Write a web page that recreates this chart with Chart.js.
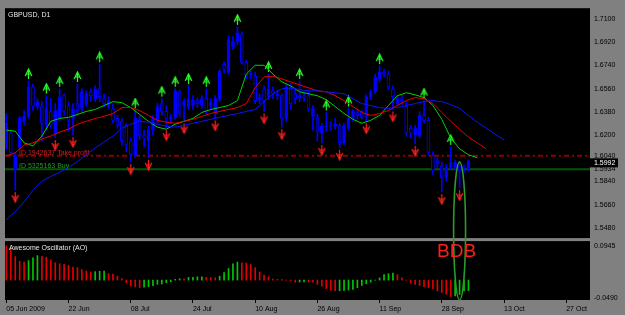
<!DOCTYPE html>
<html lang="en">
<head>
<meta charset="UTF-8">
<title>GBPUSD, D1</title>
<script src="https://cdn.jsdelivr.net/npm/chart.js"></script>
<style>
  html, body { margin: 0; padding: 0; background: #808080; }
  #chart { display: block; }
</style>
</head>
<body>
<canvas id="chart" width="625" height="315"></canvas>
<script>
// daily bars, index 0 = 05 Jun 2009
const openP = [1.6100,1.6215,1.5933,1.6100,1.6306,1.6345,1.6574,1.6421,1.6421,1.6276,
  1.6383,1.6215,1.6329,1.6505,1.6429,1.6329,1.6444,1.6406,1.6444,1.6535,
  1.6482,1.6558,1.6482,1.6429,1.6406,1.6329,1.6306,1.6276,1.6154,1.6047,
  1.6314,1.6200,1.6162,1.6238,1.6314,1.6444,1.6383,1.6322,1.6337,1.6535,
  1.6429,1.6421,1.6429,1.6467,1.6429,1.6482,1.6429,1.6367,1.6482,1.6749,
  1.6688,1.6886,1.6925,1.6978,1.6764,1.6665,1.6657,1.6474,1.6558,1.6497,
  1.6543,1.6505,1.6505,1.6329,1.6558,1.6520,1.6490,1.6505,1.6505,1.6345,
  1.6329,1.6215,1.6261,1.6276,1.6268,1.6276,1.6139,1.6253,1.6329,1.6375,
  1.6383,1.6345,1.6497,1.6535,1.6635,1.6688,1.6673,1.6558,1.6444,1.6482,
  1.6421,1.6253,1.6200,1.6192,1.6352,1.6314,1.6047,1.6001,1.5963,1.5872,
  1.5948,1.5948,1.5963,1.5955,1.5925];
const highP = [1.6367,1.6230,1.6062,1.6345,1.6390,1.6619,1.6596,1.6482,1.6459,1.6505,
  1.6482,1.6444,1.6558,1.6520,1.6459,1.6444,1.6596,1.6558,1.6543,1.6558,
  1.6581,1.6749,1.6520,1.6497,1.6444,1.6352,1.6329,1.6291,1.6177,1.6390,
  1.6352,1.6238,1.6268,1.6352,1.6444,1.6482,1.6429,1.6360,1.6558,1.6550,
  1.6482,1.6581,1.6505,1.6490,1.6505,1.6558,1.6482,1.6505,1.6711,1.6765,
  1.6970,1.6963,1.7039,1.7001,1.6780,1.6696,1.6688,1.6520,1.6581,1.6673,
  1.6573,1.6550,1.6520,1.6596,1.6600,1.6550,1.6619,1.6535,1.6535,1.6429,
  1.6360,1.6291,1.6375,1.6306,1.6329,1.6291,1.6291,1.6406,1.6398,1.6398,
  1.6390,1.6512,1.6550,1.6673,1.6734,1.6711,1.6696,1.6581,1.6505,1.6505,
  1.6459,1.6276,1.6276,1.6383,1.6467,1.6337,1.6070,1.6024,1.5986,1.5971,
  1.6108,1.6001,1.5986,1.5971,1.6008];
const lowP = [1.6085,1.6039,1.5773,1.6085,1.6276,1.6329,1.6390,1.6398,1.6154,1.6238,
  1.6253,1.6177,1.6306,1.6352,1.6230,1.6200,1.6352,1.6383,1.6421,1.6459,
  1.6459,1.6459,1.6421,1.6406,1.6291,1.6253,1.6123,1.6070,1.5990,1.6024,
  1.6162,1.6108,1.6024,1.6200,1.6291,1.6352,1.6253,1.6291,1.6322,1.6345,
  1.6306,1.6398,1.6398,1.6415,1.6406,1.6360,1.6398,1.6329,1.6459,1.6680,
  1.6673,1.6863,1.6902,1.6749,1.6635,1.6635,1.6444,1.6444,1.6383,1.6474,
  1.6482,1.6474,1.6261,1.6306,1.6398,1.6444,1.6459,1.6459,1.6383,1.6238,
  1.6154,1.6139,1.6230,1.6238,1.6246,1.6100,1.6123,1.6238,1.6306,1.6322,
  1.6322,1.6306,1.6474,1.6520,1.6612,1.6650,1.6550,1.6398,1.6429,1.6436,
  1.6192,1.6177,1.6131,1.6177,1.6291,1.6047,1.5894,1.5948,1.5757,1.5841,
  1.5933,1.5925,1.5788,1.5910,1.5918];
const closeP = [1.6291,1.6062,1.6039,1.6329,1.6345,1.6574,1.6421,1.6459,1.6291,1.6406,
  1.6276,1.6390,1.6497,1.6383,1.6314,1.6406,1.6390,1.6535,1.6520,1.6505,
  1.6558,1.6497,1.6444,1.6467,1.6314,1.6276,1.6154,1.6123,1.6047,1.6329,
  1.6200,1.6177,1.6238,1.6329,1.6421,1.6383,1.6329,1.6337,1.6543,1.6367,
  1.6459,1.6474,1.6474,1.6444,1.6482,1.6383,1.6452,1.6482,1.6696,1.6711,
  1.6940,1.6925,1.6993,1.6764,1.6657,1.6680,1.6467,1.6490,1.6467,1.6558,
  1.6520,1.6520,1.6329,1.6574,1.6444,1.6482,1.6505,1.6490,1.6406,1.6406,
  1.6230,1.6268,1.6268,1.6261,1.6284,1.6139,1.6268,1.6329,1.6390,1.6352,
  1.6337,1.6497,1.6535,1.6650,1.6688,1.6673,1.6574,1.6497,1.6482,1.6467,
  1.6215,1.6215,1.6253,1.6352,1.6314,1.6062,1.5925,1.5986,1.5872,1.5948,
  1.5986,1.5986,1.5925,1.5948,1.5992];

// fractal bars
const upFractals = [5, 9, 12, 16, 21, 29, 35, 38, 41, 45, 52, 59, 66, 72, 77, 84, 94, 100];
const downFractals = [2, 11, 15, 28, 32, 36, 40, 47, 58, 62, 71, 75, 81, 87, 92, 98, 102];

// alligator lines, sampled every 2 bars (shifted lines run past the last bar)
const maIdx = [0,2,4,6,8,10,12,14,16,18,20,22,24,26,28,30,32,34,36,38,40,42,44,46,48,50,
  52,54,56,58,60,62,64,66,68,70,72,74,76,78,80,82,84,86,88,90,92,94,96,98,100,102,104,106,108,110,112];
const lips = [1.6238,1.6230,1.6139,1.6116,1.6192,1.6306,1.6329,1.6337,1.6360,1.6383,1.6398,1.6429,1.6459,
  1.6451,1.6413,1.6360,1.6306,1.6261,1.6245,1.6284,1.6306,1.6329,1.6375,1.6398,1.6413,1.6429,1.6467,
  1.6673,1.6741,1.6741,1.6673,1.6612,1.6581,1.6535,1.6520,1.6505,1.6474,1.6421,1.6367,1.6322,1.6291,
  1.6314,1.6352,1.6429,1.6505,1.6528,1.6512,1.6490,1.6429,1.6322,1.6177,1.6093,1.6047,1.6024,null,null,null];
const teeth = [1.6039,1.6062,1.6123,1.6139,1.6169,1.6192,1.6223,1.6245,1.6284,1.6306,1.6329,1.6345,1.6367,
  1.6413,1.6413,1.6390,1.6352,1.6314,1.6299,1.6291,1.6306,1.6322,1.6345,1.6367,1.6383,1.6398,1.6413,
  1.6444,1.6566,1.6650,1.6657,1.6635,1.6612,1.6589,1.6566,1.6543,1.6535,1.6505,1.6467,1.6421,1.6375,
  1.6352,1.6367,1.6390,1.6429,1.6467,1.6490,1.6482,1.6444,1.6375,1.6306,1.6245,1.6184,1.6139,1.6093,null,null];
const jaw = [1.5543,1.5605,1.5681,1.5772,1.5841,1.5879,1.5910,1.5948,1.5994,1.6047,1.6100,1.6146,1.6192,
  1.6253,1.6284,1.6306,1.6299,1.6284,1.6268,1.6261,1.6276,1.6291,1.6306,1.6322,1.6337,1.6352,1.6367,
  1.6383,1.6398,1.6459,1.6520,1.6558,1.6566,1.6551,1.6543,1.6543,1.6535,1.6528,1.6520,1.6482,1.6444,
  1.6429,1.6413,1.6406,1.6413,1.6429,1.6444,1.6459,1.6467,1.6459,1.6436,1.6406,1.6352,1.6299,1.6253,1.6207,1.6162];

// Awesome Oscillator
const aoValues = [0.0945,0.0902,0.0650,0.0523,0.0496,0.0542,0.0615,0.0677,0.0658,0.0631,
  0.0561,0.0479,0.0452,0.0433,0.0406,0.0360,0.0344,0.0290,0.0252,0.0225,
  0.0233,0.0244,0.0250,0.0181,0.0168,0.0108,0.0040,-0.0073,-0.0162,-0.0190,
  -0.0208,-0.0200,-0.0181,-0.0155,-0.0117,-0.0108,-0.0073,-0.0046,0.0019,0.0035,
  0.0030,0.0073,0.0075,0.0090,0.0092,0.0080,0.0070,0.0065,0.0108,0.0209,
  0.0317,0.0452,0.0496,0.0479,0.0470,0.0433,0.0344,0.0225,0.0135,0.0090,
  0.0027,0.0019,0.0010,-0.0005,-0.0014,-0.0060,-0.0055,-0.0050,-0.0052,-0.0060,
  -0.0120,-0.0167,-0.0237,-0.0284,-0.0302,-0.0298,-0.0284,-0.0275,-0.0257,-0.0210,
  -0.0149,-0.0103,-0.0059,-0.0005,0.0059,0.0149,0.0176,0.0194,0.0149,0.0059,
  -0.0005,-0.0077,-0.0122,-0.0149,-0.0184,-0.0210,-0.0237,-0.0302,-0.0345,-0.0392,
  -0.0460,-0.0440,-0.0400,-0.0302,-0.0290];

const timeTickIdx = [0, 14, 28, 42, 56, 70, 84, 98, 112, 126];
const timeTickLabels = ['05 Jun 2009', '22 Jun', '08 Jul', '24 Jul', '10 Aug', '26 Aug', '11 Sep', '28 Sep', '13 Oct', '27 Oct'];
const priceTicks = [1.7100, 1.6920, 1.6740, 1.6560, 1.6380, 1.6200, 1.6040, 1.5934, 1.5840, 1.5660, 1.5480];
const aoTicks = [0.0945, -0.0490];

const takeProfit = 1.6040;
const buyPrice = 1.5934;
const bdbBar = 102;

const FONT = '"Liberation Sans", Arial, sans-serif';

function arrowSprite(color, up) {
  const c = document.createElement('canvas');
  c.width = 9; c.height = 26;
  const g = c.getContext('2d');
  g.strokeStyle = color;
  g.lineWidth = 1.2;
  g.beginPath();
  if (up) {
    g.moveTo(4.5, 1); g.lineTo(4.5, 11);
    g.moveTo(1.2, 8); g.lineTo(4.5, 1); g.lineTo(7.8, 8);
    g.moveTo(2.5, 6); g.lineTo(6.5, 6);
  } else {
    g.moveTo(4.5, 15); g.lineTo(4.5, 25);
    g.moveTo(1.2, 18); g.lineTo(4.5, 25); g.lineTo(7.8, 18);
    g.moveTo(2.5, 20); g.lineTo(6.5, 20);
  }
  g.stroke();
  return c;
}

const bars = openP.map((o, i) => i);
const wickData = bars.map(i => ({ x: i, y: [lowP[i], highP[i]] }));
const bodyData = bars.map(i => ({ x: i, y: [openP[i], closeP[i]] }));
const bodyFill = bars.map(i => closeP[i] >= openP[i] ? '#0000ff' : '#000000');
const aoColors = aoValues.map((v, i) => (i > 0 && v > aoValues[i - 1]) ? '#00c800' : '#e00000');

function maLine(vals) {
  return maIdx.map((x, k) => ({ x: x, y: vals[k] }));
}

const overlay = {
  id: 'overlay',
  beforeDraw(chart) {
    const { ctx, chartArea: a } = chart;
    ctx.save();
    ctx.fillStyle = '#808080';
    ctx.fillRect(0, 0, chart.width, chart.height);
    ctx.fillStyle = '#000000';
    ctx.fillRect(a.left, a.top, a.right - a.left, a.bottom - a.top);
    ctx.restore();
  },
  beforeDatasetsDraw(chart) {
    const { ctx, chartArea: a } = chart;
    const y = chart.scales.y;
    const tpY = y.getPixelForValue(takeProfit);
    const buyY = y.getPixelForValue(buyPrice);
    ctx.save();
    ctx.lineWidth = 2;
    ctx.strokeStyle = '#8c0000';
    ctx.setLineDash([5, 3, 2, 3]);
    ctx.beginPath(); ctx.moveTo(a.left, tpY); ctx.lineTo(a.right, tpY); ctx.stroke();
    ctx.setLineDash([]);
    ctx.strokeStyle = '#005a00';
    ctx.beginPath(); ctx.moveTo(a.left, buyY); ctx.lineTo(a.right, buyY); ctx.stroke();
    ctx.font = '7px ' + FONT;
    ctx.textBaseline = 'alphabetic';
    ctx.fillStyle = '#c82020';
    ctx.fillText('ID 1942637 Take profit', a.left + 14, tpY - 1);
    ctx.fillStyle = '#249624';
    ctx.fillText('ID 5325163 Buy', a.left + 14, buyY - 1);
    ctx.restore();
  },
  afterDatasetsDraw(chart) {
    const { ctx, chartArea: a } = chart;
    const y = chart.scales.y;
    const ao = chart.scales.yAO;
    ctx.save();
    // separator between the price pane and the oscillator pane
    ctx.fillStyle = '#808080';
    ctx.fillRect(a.left, y.bottom, a.right - a.left, 3);
    ctx.font = '7px ' + FONT;
    ctx.fillStyle = '#e6e6e6';
    ctx.textBaseline = 'middle';
    ctx.fillText('GBPUSD, D1', a.left + 3, y.top + 7);
    ctx.fillText('Awesome Oscillator (AO)', a.left + 4, ao.top + 10);
    ctx.restore();
  },
  afterDraw(chart) {
    const { ctx, chartArea: a } = chart;
    const x = chart.scales.x;
    const y = chart.scales.y;
    const ao = chart.scales.yAO;
    ctx.save();
    // current price box
    const last = closeP[closeP.length - 1];
    const py = y.getPixelForValue(last) + 1;
    ctx.fillStyle = '#000000';
    ctx.fillRect(a.right, py - 4.5, 28, 9);
    ctx.font = '7px ' + FONT;
    ctx.fillStyle = '#ffffff';
    ctx.textBaseline = 'middle';
    ctx.fillText(last.toFixed(4), a.right + 4, py);
    // bullish divergent bar marker
    const cx = x.getPixelForValue(bdbBar);
    const top = y.getPixelForValue(1.5990);
    const bottom = a.bottom;
    ctx.strokeStyle = '#2c9a2c';
    ctx.lineWidth = 1.6;
    ctx.beginPath();
    ctx.ellipse(cx, (top + bottom) / 2, 6, (bottom - top) / 2, 0, 0, Math.PI * 2);
    ctx.stroke();
    ctx.fillStyle = '#ff1e1e';
    ctx.font = '19px ' + FONT;
    ctx.textAlign = 'center';
    ctx.textBaseline = 'alphabetic';
    ctx.fillText('BDB', cx - 3, ao.top + 19);
    ctx.restore();
  }
};

new Chart(document.getElementById('chart'), {
  type: 'bar',
  data: {
    datasets: [
      { type: 'line', label: 'Jaw', data: maLine(jaw), yAxisID: 'y', borderColor: '#0a14ff', borderWidth: 1, pointRadius: 0, tension: 0, order: 0 },
      { type: 'line', label: 'Teeth', data: maLine(teeth), yAxisID: 'y', borderColor: '#e60000', borderWidth: 1, pointRadius: 0, tension: 0, order: 0 },
      { type: 'line', label: 'Lips', data: maLine(lips), yAxisID: 'y', borderColor: '#00d200', borderWidth: 1, pointRadius: 0, tension: 0, order: 0 },
      { type: 'line', label: 'Fractal up', data: upFractals.map(i => ({ x: i, y: highP[i] })), yAxisID: 'y',
        showLine: false, pointStyle: arrowSprite('#2dff2d', true), pointRadius: 4, order: 0 },
      { type: 'line', label: 'Fractal down', data: downFractals.map(i => ({ x: i, y: lowP[i] })), yAxisID: 'y',
        showLine: false, pointStyle: arrowSprite('#ff2020', false), pointRadius: 4, order: 0 },
      { label: 'Body', data: bodyData, yAxisID: 'y', backgroundColor: bodyFill, borderColor: '#0000ff',
        borderWidth: 1, borderSkipped: false, barThickness: 3, grouped: false, order: 1 },
      { label: 'Wick', data: wickData, yAxisID: 'y', backgroundColor: '#0000ff', barThickness: 1, grouped: false, order: 2 },
      { label: 'AO', data: aoValues.map((v, i) => ({ x: i, y: v })), yAxisID: 'yAO', backgroundColor: aoColors,
        barThickness: 1, grouped: false, order: 3 }
    ]
  },
  options: {
    responsive: false,
    animation: false,
    events: [],
    layout: { padding: { left: 3, top: 3, right: 0, bottom: 0 } },
    plugins: { legend: { display: false }, tooltip: { enabled: false } },
    scales: {
      x: {
        type: 'linear', min: -0.3, max: 131.35, offset: false,
        afterBuildTicks: s => { s.ticks = timeTickIdx.map(v => ({ value: v })); },
        afterFit: s => { s.height = 15; },
        grid: { drawOnChartArea: false, drawTicks: true, tickLength: 3, color: '#000000', offset: false },
        border: { display: false },
        ticks: { autoSkip: false, maxRotation: 0, align: 'start', padding: 2, color: '#000000',
          font: { family: FONT, size: 7 }, callback: (v, i) => timeTickLabels[i] }
      },
      y: {
        type: 'linear', position: 'right', stack: 'panes', stackWeight: 234,
        min: 1.54003, max: 1.718384,
        afterBuildTicks: s => { s.ticks = priceTicks.map(v => ({ value: v })); },
        afterFit: s => { s.width = 35; },
        grid: { display: false, drawTicks: false },
        border: { display: false },
        ticks: { autoSkip: false, padding: 4, color: '#000000', font: { family: FONT, size: 7 },
          callback: v => v.toFixed(4) }
      },
      yAO: {
        type: 'linear', position: 'right', stack: 'panes', stackWeight: 63,
        min: -0.05528, max: 0.11629,
        afterBuildTicks: s => { s.ticks = aoTicks.map(v => ({ value: v })); },
        afterFit: s => { s.width = 35; },
        grid: { display: false, drawTicks: false },
        border: { display: false },
        ticks: { autoSkip: false, padding: 4, color: '#000000', font: { family: FONT, size: 7 },
          callback: v => v.toFixed(4) }
      }
    }
  },
  plugins: [overlay]
});
</script>
</body>
</html>
